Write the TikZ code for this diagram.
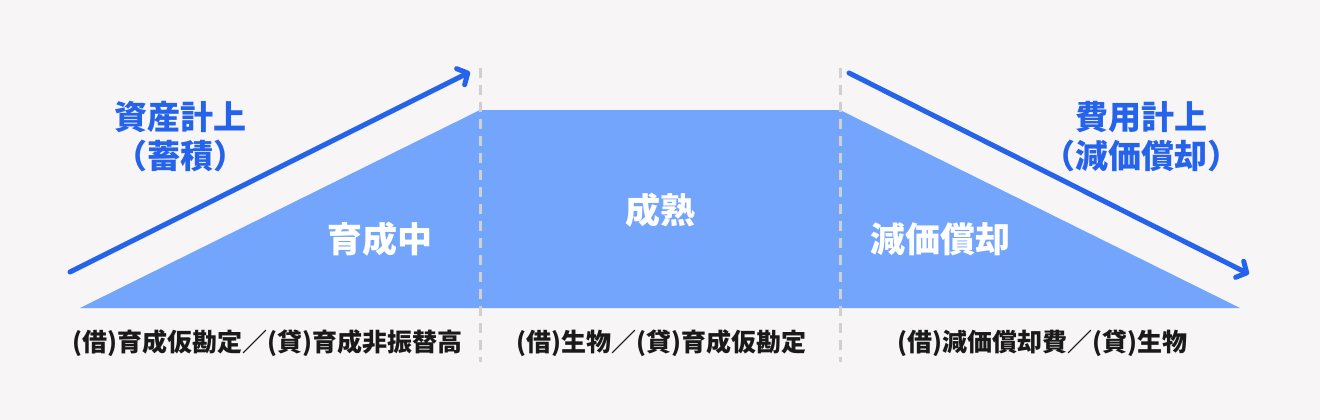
\documentclass[tikz,border=0pt]{standalone}
\usepackage{fontspec}
\setmainfont{Noto Sans CJK JP}
\usetikzlibrary{arrows.meta}
\definecolor{bg}{HTML}{F7F5F6}
\definecolor{area}{HTML}{74A5FC}
\definecolor{flowblue}{HTML}{2563EB}
\definecolor{guide}{HTML}{D0D0D0}
\definecolor{ink}{HTML}{1A1A1A}
\begin{document}
\begin{tikzpicture}[x=1pt,y=-1pt,
    flow/.style={flowblue,line width=5pt,line cap=round,-{Straight Barb[length=8pt,width=18pt,line cap=round,line join=round]}},
    guideline/.style={guide,line width=3pt,dash pattern=on 10pt off 7pt},
    phase/.style={white,font=\fontsize{35}{40}\selectfont\bfseries},
    booking/.style={ink,font=\fontsize{25}{30}\selectfont\bfseries},
    side/.style={flowblue,font=\fontsize{33}{38}\selectfont\bfseries}]
      \fill[bg](0,0)rectangle(1320,420);
      \useasboundingbox(0,0)rectangle(1320,420);
      % value curve
      \coordinate(start)at(80,308);\coordinate(peakL)at(480,110);
      \coordinate(peakR)at(840,110);\coordinate(stop)at(1240,308);
      \fill[area](start)--(peakL)--(peakR)--(stop)--cycle;
      \draw[guideline](480,68)coordinate(gL)--(480,362);
      \draw[guideline](840,68)coordinate(gR)--(840,362);
      % arrows
      \coordinate(upA)at(70,272);\coordinate(upB)at(470,72);
      \coordinate(dnA)at(849,73);\coordinate(dnB)at(1249,274);
      \draw[flow](upA)--(upB);
      \draw[flow](dnA)--(dnB);
      % phases
      \node[phase](grow)at(380,239){育成中};
      \node[phase](mature)at(660,210){成熟};
      \node[phase](depr)at(940,239){減価償却};
      \node[side](asset)at(180,117){資産計上};
      \node[side](assetnote)at(180,156){（蓄積）};
      \node[side](cost)at(1141,117){費用計上};
      \node[side](costnote)at(1141,156){（減価償却）};
      % journal entries
      \node[booking](jL)at(267,343){(借)育成仮勘定／(貸)育成非振替高};
      \node[booking](jM)at(661,343){(借)生物／(貸)育成仮勘定};
      \node[booking](jR)at(1042,343){(借)減価償却費／(貸)生物};
\end{tikzpicture}
\end{document}
